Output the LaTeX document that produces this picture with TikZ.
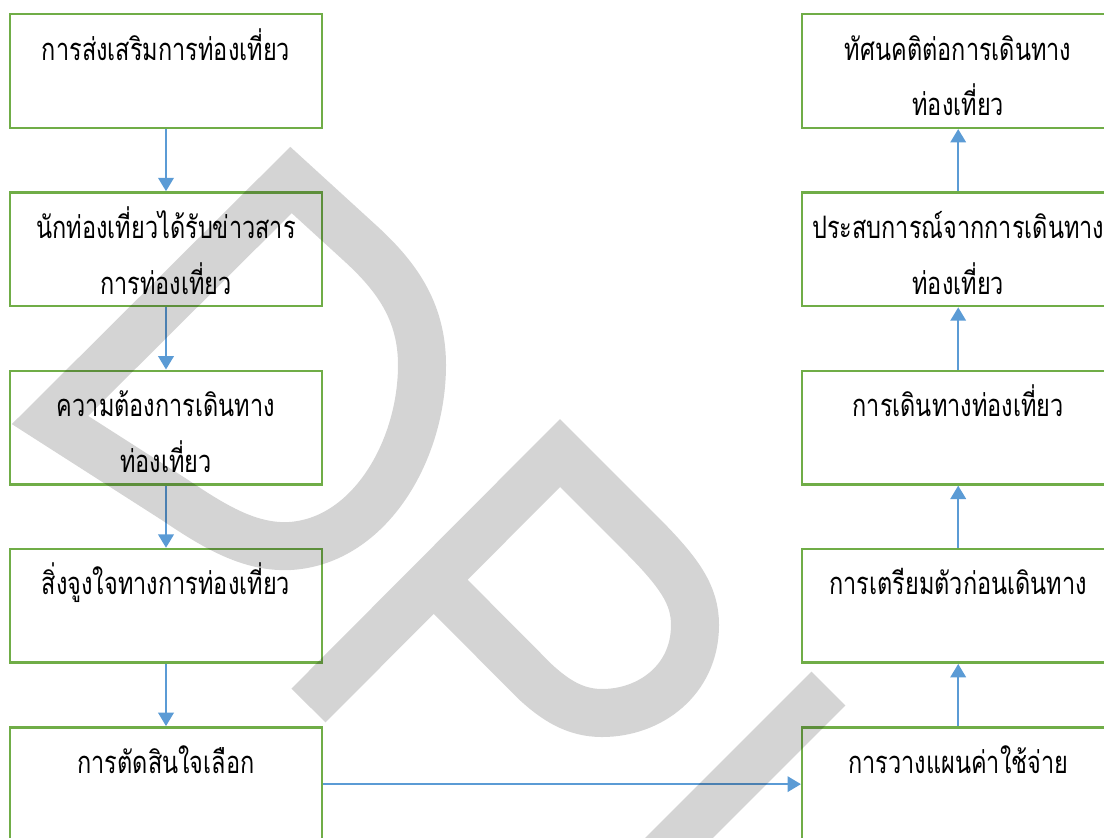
\documentclass[tikz,border=0pt]{standalone}
\usepackage{fontspec}
\usepackage{tikz}
\usetikzlibrary{arrows.meta}
\newfontfamily\thaifont[Script=Thai, FakeStretch=0.76]{Loma}
\definecolor{boxgreen}{HTML}{70AD47}
\definecolor{arrowblue}{HTML}{5B9BD5}
\newcommand{\stagefont}{\thaifont\fontsize{22pt}{39.7pt}\selectfont}
\tikzstyle{stage} = [draw=boxgreen, line width=1.8pt, inner sep=0pt, text width=7.8cm, align=center, text height=32.6pt, text depth=48.2pt, font=\stagefont]
\tikzstyle{connector} = [line width=1.5pt, draw=arrowblue, -{Triangle[length=9.5pt,width=11pt]}]
\tikzstyle{watermark} = [draw=black, draw opacity=0.17, line width=1.2cm, line join=miter]

\begin{document}
\begin{tikzpicture}[x=0.025cm, y=-0.025cm, node distance=4.456cm]
                \useasboundingbox (0,0) rectangle (1104,837);
                \clip (0,0) rectangle (1104,837);

                \node (promo) [stage] at (166,71) {การส่งเสริมการท่องเที่ยว};
                \node (news) [stage, below of=promo] {นักท่องเที่ยวได้รับข่าวสาร\\การท่องเที่ยว};
                \node (desire) [stage, below of=news] {ความต้องการเดินทาง\\ท่องเที่ยว};
                \node (motive) [stage, below of=desire] {สิ่งจูงใจทางการท่องเที่ยว};
                \node (decide) [stage, below of=motive] {การตัดสินใจเลือก};
                \node (plan) [stage, node distance=19.8cm, right of=decide] {การวางแผนค่าใช้จ่าย};
                \node (prep) [stage, above of=plan] {การเตรียมตัวก่อนเดินทาง};
                \node (trip) [stage, above of=prep] {การเดินทางท่องเที่ยว};
                \node (exper) [stage, above of=trip] {ประสบการณ์จากการเดินทาง\\ท่องเที่ยว};
                \node (attitude) [stage, above of=exper] {ทัศนคติต่อการเดินทาง\\ท่องเที่ยว};

                \draw [connector] (promo) -- (news);
                \draw [connector] (news) -- (desire);
                \draw [connector] (desire) -- (motive);
                \draw [connector] (motive) -- (decide);
                \draw [connector] (decide) -- (plan);
                \draw [connector] (plan) -- (prep);
                \draw [connector] (prep) -- (trip);
                \draw [connector] (trip) -- (exper);
                \draw [connector] (exper) -- (attitude);

                % watermark
                \draw [watermark] (291,180) -- (50,420) -- (175,500) .. controls (215,527) and (250,548) .. (290,546) .. controls (370,541) and (422,450) .. (422,365) .. controls (422,310) and (395,275) .. (360,243) -- cycle;
                \draw [watermark] (308.5,705.5) -- (560,453) -- (640,533) .. controls (680,573) and (695,595) .. (695,625) .. controls (695,680) and (650,713) .. (602,713) .. controls (575,713) and (555,700) .. (535,681.5) -- (434,580);
                \draw [watermark] (828.5,688.5) -- (640,877);
            \end{tikzpicture}
\end{document}
